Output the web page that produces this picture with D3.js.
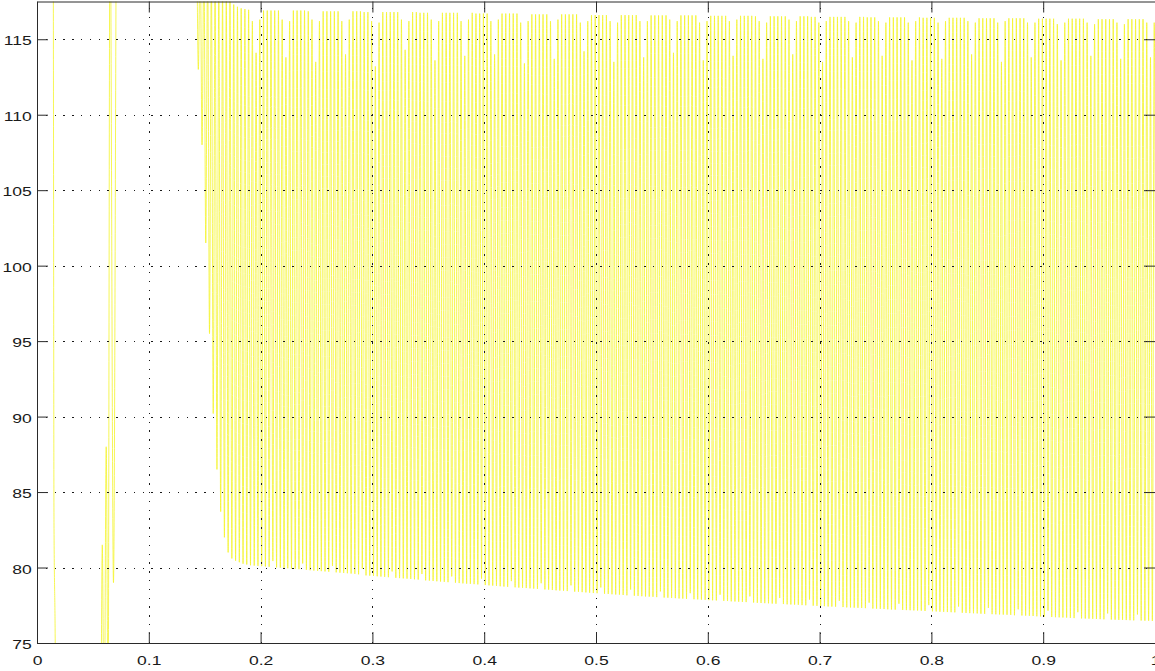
<!DOCTYPE html>
<html>
<head>
<meta charset="utf-8">
<script src="https://cdn.jsdelivr.net/npm/d3@7/dist/d3.min.js"></script>
<style>
  html, body { margin: 0; padding: 0; background: #ffffff; overflow: hidden; }
  svg { display: block; }
  .tick text { font-family: "Liberation Sans", Arial, Helvetica, sans-serif; font-size: 13.5px; fill: #1a1a1a; }
</style>
</head>
<body>
<svg id="chart" width="1155" height="671"></svg>
<script>
// ---- axis ticks ----
const xTicks = [0, 0.1, 0.2, 0.3, 0.4, 0.5, 0.6, 0.7, 0.8, 0.9, 1];
const xTickLabels = ["0", "0.1", "0.2", "0.3", "0.4", "0.5", "0.6", "0.7", "0.8", "0.9", "1"];
const yTicks = [75, 80, 85, 90, 95, 100, 105, 110, 115];
const yTickLabels = ["75", "80", "85", "90", "95", "100", "105", "110", "115"];
const xDomain = [0, 1];
const yDomain = [75, 117.5];

// ---- start-up transient: turning points [time (s), value] ----
const startup = [
  [0.0000, 130], [0.0080, 140], [0.0145, 121], [0.0152, 83], [0.0162, 76], [0.0168, 70],
  [0.0300, 40], [0.0500, 50], [0.0570, 68],
  [0.0584, 81.5], [0.0601, 68], [0.0619, 88], [0.0636, 70], [0.0653, 125],
  [0.0684, 79], [0.0717, 130], [0.0760, 122], [0.1000, 140], [0.1300, 135], [0.1395, 122]
];

// ---- ripple after start-up: one peak and one trough per cycle ----
const rippleStart = 0.14263;      // time of the first peak (s)
const ripplePeriod = 1 / 300;     // cycle length (s)

const ripplePeaks = [
  121.5, 121.0, 120.5, 120.0, 119.5, 119.0, 118.6, 118.2, 117.8, 117.5, 117.3, 117.15, 117.05, 117.0, 116.95,
  116.2, 114.1, 116.3, 116.9, 116.9, 116.9, 116.9, 116.9, 116.3, 113.8, 116.2, 116.9, 116.9, 116.9, 116.9,
  116.85, 116.3, 113.5, 116.2, 116.85, 116.85, 116.85, 116.85, 116.85, 116.2, 114.0, 116.3, 116.85, 116.85, 116.85,
  116.8, 116.8, 116.2, 113.2, 116.1, 116.8, 116.8, 116.8, 116.8, 116.8, 116.3, 114.3, 116.2, 116.8, 116.8,
  116.75, 116.75, 116.75, 116.3, 113.6, 116.2, 116.75, 116.75, 116.75, 116.75, 116.75, 116.2, 113.9, 116.3, 116.75,
  116.7, 116.7, 116.7, 116.7, 116.2, 114.0, 116.3, 116.7, 116.7, 116.7, 116.7, 116.7, 116.1, 113.4, 116.2,
  116.65, 116.65, 116.65, 116.65, 116.65, 116.2, 113.7, 116.3, 116.65, 116.65, 116.65, 116.65, 116.65, 116.1, 114.2,
  116.2, 116.6, 116.6, 116.6, 116.6, 116.6, 116.2, 113.5, 116.1, 116.6, 116.6, 116.6, 116.6, 116.6, 116.2,
  113.8, 116.2, 116.58, 116.58, 116.58, 116.58, 116.58, 116.3, 114.1, 116.2, 116.58, 116.58, 116.58, 116.58, 116.58,
  116.1, 113.6, 116.2, 116.55, 116.55, 116.55, 116.55, 116.55, 116.2, 113.9, 116.3, 116.55, 116.55, 116.55, 116.55,
  116.52, 116.2, 113.7, 116.1, 116.52, 116.52, 116.52, 116.52, 116.52, 116.3, 114.0, 116.2, 116.52, 116.52, 116.52,
  116.48, 116.48, 116.1, 113.5, 116.2, 116.48, 116.48, 116.48, 116.48, 116.48, 116.2, 113.8, 116.1, 116.48, 116.48,
  116.45, 116.45, 116.45, 116.2, 113.9, 116.1, 116.45, 116.45, 116.45, 116.45, 116.45, 116.1, 113.6, 116.2, 116.45,
  116.42, 116.42, 116.42, 116.42, 116.1, 113.7, 116.2, 116.42, 116.42, 116.42, 116.42, 116.42, 116.2, 114.0, 116.1,
  116.39, 116.39, 116.39, 116.39, 116.39, 116.1, 113.5, 116.2, 116.39, 116.39, 116.39, 116.39, 116.39, 116.1, 113.8,
  116.1, 116.36, 116.36, 116.36, 116.36, 116.36, 116.0, 113.6, 116.1, 116.36, 116.36, 116.36, 116.36, 116.36, 116.1,
  113.9, 116.0, 116.33, 116.33, 116.33, 116.33, 116.33, 116.1, 113.7, 116.0, 116.33, 116.33, 116.33, 116.33, 116.33,
  116.1, 113.8, 116.1
];

const rippleTroughs = [
  113.0, 108.0, 101.5, 95.5, 90.2, 86.5, 83.7, 82.0, 81.0, 80.6, 80.45, 80.35, 80.25, 80.2, 80.15,
  80.13, 80.11, 80.09, 80.07, 80.05, 80.43, 80.01, 79.99, 79.97, 79.95, 79.93, 79.91, 79.89, 80.27, 79.85,
  79.82, 79.8, 79.78, 79.76, 79.74, 79.72, 80.1, 79.68, 79.66, 79.64, 79.62, 79.6, 79.58, 79.55, 79.92,
  79.48, 79.46, 79.44, 79.42, 79.4, 79.38, 79.36, 79.74, 79.32, 79.3, 79.28, 79.26, 79.24, 79.22, 79.2,
  79.57, 79.15, 79.13, 79.11, 79.09, 79.07, 79.05, 79.03, 79.41, 78.99, 78.97, 78.95, 78.93, 78.92, 78.9,
  78.88, 79.26, 78.84, 78.82, 78.8, 78.78, 78.76, 78.74, 78.72, 79.1, 78.69, 78.67, 78.65, 78.64, 78.62,
  78.6, 78.58, 78.96, 78.55, 78.53, 78.51, 78.49, 78.47, 78.46, 78.44, 78.82, 78.4, 78.39, 78.37, 78.35,
  78.33, 78.31, 78.3, 78.68, 78.26, 78.25, 78.23, 78.21, 78.2, 78.18, 78.16, 78.54, 78.13, 78.12, 78.1,
  78.08, 78.07, 78.06, 78.04, 78.42, 78.01, 78.0, 77.98, 77.97, 77.95, 77.94, 77.92, 78.3, 77.9, 77.89,
  77.87, 77.86, 77.84, 77.83, 77.82, 78.2, 77.79, 77.78, 77.76, 77.75, 77.73, 77.72, 77.71, 78.09, 77.68,
  77.66, 77.65, 77.64, 77.63, 77.61, 77.6, 77.98, 77.58, 77.56, 77.55, 77.54, 77.53, 77.51, 77.5, 77.87,
  77.47, 77.46, 77.45, 77.44, 77.42, 77.41, 77.4, 77.79, 77.38, 77.36, 77.35, 77.34, 77.33, 77.32, 77.31,
  77.67, 77.28, 77.27, 77.26, 77.25, 77.23, 77.22, 77.21, 77.6, 77.19, 77.18, 77.17, 77.16, 77.15, 77.14,
  77.12, 77.51, 77.1, 77.09, 77.07, 77.06, 77.05, 77.04, 77.03, 77.41, 77.0, 76.99, 76.98, 76.97, 76.96,
  76.94, 76.93, 77.32, 76.91, 76.9, 76.89, 76.88, 76.87, 76.86, 76.84, 77.23, 76.82, 76.81, 76.8, 76.79,
  76.77, 76.76, 76.75, 77.14, 76.72, 76.71, 76.7, 76.69, 76.68, 76.66, 76.65, 77.04, 76.63, 76.62, 76.61,
  76.6, 76.59, 76.58, 76.57, 76.96, 76.55, 76.54, 76.53, 76.53, 76.52, 76.51, 76.5, 76.89, 76.49, 76.48,
  76.47, 76.46, 76.45
];

// ---- layout ----
const W = 1155, H = 671;
const plot = { left: 37, top: 1.5, right: 1155, bottom: 643 };
const tickLen = 11;

const svg = d3.select("#chart");

const x = d3.scaleLinear().domain(xDomain).range([plot.left, plot.right]);
const y = d3.scaleLinear().domain(yDomain).range([plot.bottom, plot.top]);

// assemble the trace: start-up points, then alternating peak / trough of each cycle
const trace = startup.slice();
const nCycles = Math.min(ripplePeaks.length, rippleTroughs.length);
for (let i = 0; i < nCycles; i++) {
  const tp = rippleStart + i * ripplePeriod;
  trace.push([tp, ripplePeaks[i]]);
  trace.push([tp + ripplePeriod / 2, rippleTroughs[i]]);
}

svg.append("defs").append("clipPath").attr("id", "plot-clip")
  .append("rect")
  .attr("x", plot.left).attr("y", plot.top)
  .attr("width", plot.right - plot.left).attr("height", plot.bottom - plot.top);

const line = d3.line()
  .x(d => x(d[0]))
  .y(d => y(d[1]))
  .curve(d3.curveMonotoneX);

svg.append("path")
  .datum(trace)
  .attr("clip-path", "url(#plot-clip)")
  .attr("fill", "none")
  .attr("stroke", "#f4f42a")
  .attr("stroke-width", 0.8)
  .attr("d", line);

// ---- dotted grid ----
const gridStyle = g => {
  g.select(".domain").remove();
  g.selectAll(".tick line")
    .attr("stroke", "#1a1a1a")
    .attr("stroke-width", 1)
    .attr("stroke-dasharray", "1.4,7.4")
    .attr("shape-rendering", "crispEdges");
};

svg.append("g")
  .attr("transform", `translate(0,${plot.bottom})`)
  .call(d3.axisBottom(x)
    .tickValues(xTicks.filter(v => v > xDomain[0] && v < xDomain[1]))
    .tickSize(-(plot.bottom - plot.top))
    .tickFormat(""))
  .call(gridStyle);

svg.append("g")
  .attr("transform", `translate(${plot.left},0)`)
  .call(d3.axisLeft(y)
    .tickValues(yTicks.filter(v => v > yDomain[0] && v < yDomain[1]))
    .tickSize(-(plot.right - plot.left))
    .tickFormat(""))
  .call(gridStyle);

// ---- axes and frame ----
const axisStyle = g => {
  g.attr("color", "#2a2a2a");
  g.selectAll(".tick line").attr("stroke-width", 1);
};

svg.append("g")
  .attr("transform", `translate(0,${plot.bottom})`)
  .call(d3.axisBottom(x)
    .tickValues(xTicks)
    .tickFormat((d, i) => xTickLabels[i])
    .tickSizeInner(-tickLen)
    .tickSizeOuter(0)
    .tickPadding(12.4))
  .call(axisStyle)
  .call(g => g.selectAll(".tick text").attr("transform", "scale(1.3,1)"));

svg.append("g")
  .attr("transform", `translate(${plot.left},0)`)
  .call(d3.axisLeft(y)
    .tickValues(yTicks)
    .tickFormat((d, i) => yTickLabels[i])
    .tickSizeInner(-tickLen)
    .tickSizeOuter(0)
    .tickPadding(4))
  .call(axisStyle)
  .call(g => g.selectAll(".tick text").attr("dy", "0.42em").attr("transform", "scale(1.3,1)"));

svg.append("g")
  .attr("transform", `translate(0,${plot.top})`)
  .call(d3.axisTop(x)
    .tickValues(xTicks)
    .tickFormat("")
    .tickSizeInner(-tickLen)
    .tickSizeOuter(0))
  .call(axisStyle);

svg.append("g")
  .attr("transform", `translate(${plot.right},0)`)
  .call(d3.axisRight(y)
    .tickValues(yTicks)
    .tickFormat("")
    .tickSizeInner(-tickLen)
    .tickSizeOuter(0))
  .call(axisStyle);
</script>
</body>
</html>
